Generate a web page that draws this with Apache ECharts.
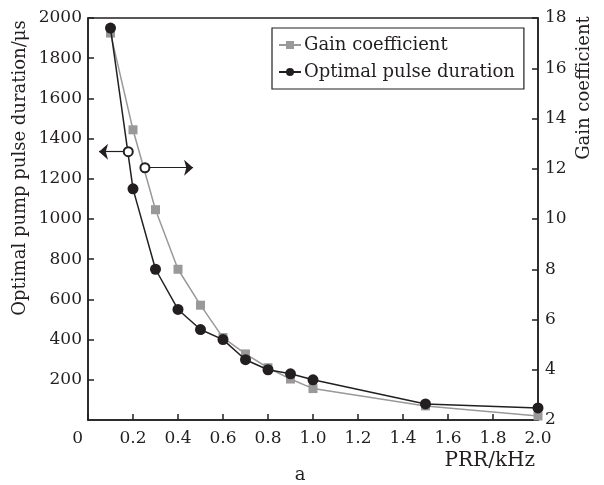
<!DOCTYPE html>
<html>
<head>
<meta charset="utf-8">
<script src="https://cdn.jsdelivr.net/npm/echarts@6/dist/echarts.min.js"></script>
<style>
html,body{margin:0;padding:0;background:#fff;}
#c{width:604px;height:485px;}
</style>
</head>
<body>
<div id="c"></div>
<script>
// PRR (kHz)
const prr = [0.1, 0.2, 0.3, 0.4, 0.5, 0.6, 0.7, 0.8, 0.9, 1.0, 1.5, 2.0];
// Optimal pulse duration (µs), left axis
const pulseDuration = [1950, 1150, 750, 550, 450, 400, 300, 250, 230, 200, 80, 60];
// Gain coefficient, right axis
const gainCoeff = [17.4, 13.55, 10.37, 8.0, 6.57, 5.28, 4.63, 4.08, 3.63, 3.25, 2.56, 2.16];

const xTicks = { min: 0, max: 2, interval: 0.2 };
const yLeftTicks = { min: 0, max: 2000, interval: 200 };
const yRightTicks = { min: 2, max: 18, interval: 2 };

// annotation arrows (data coords)
const leftArrow = [[0.179, 1335], [0.049, 1335]];
const rightArrow = [[0.253, 12.04], [0.467, 12.04]];

const FONT = 'DejaVu Serif';
const INK = '#231f20';
const GRAY = '#999999';
const TICKFS = 17;
const NAMEFS = 18;

const chart = echarts.init(document.getElementById('c'), null, { renderer: 'canvas' });

const axisCommon = {
  axisLine: { show: true, lineStyle: { color: INK, width: 1.5 } },
  axisTick: { show: true, inside: true, length: 6, lineStyle: { color: INK, width: 1.5 } },
  splitLine: { show: false }
};

chart.setOption({
  animation: false,
  backgroundColor: '#fff',
  grid: { left: 88, right: 66, top: 18, bottom: 65, show: true, borderColor: INK, borderWidth: 1.5, backgroundColor: 'transparent' },
  legend: {
    left: 272, top: 28,
    orient: 'vertical',
    borderColor: INK, borderWidth: 1.2,
    padding: [8, 9, 8, 6],
    itemGap: 9,
    itemWidth: 22, itemHeight: 10,
    textStyle: { color: INK, fontFamily: FONT, fontSize: NAMEFS, padding: [0, 0, 0, -2] },
    data: ['Gain coefficient', 'Optimal pulse duration']
  },
  xAxis: Object.assign({}, axisCommon, {
    type: 'value',
    min: xTicks.min, max: xTicks.max, interval: xTicks.interval,
    name: 'PRR/kHz',
    nameLocation: 'end',
    nameGap: -3,
    nameTextStyle: { color: INK, fontFamily: FONT, fontSize: 20, align: 'right', verticalAlign: 'top', padding: [31, 0, 0, 0] },
    axisLabel: {
      color: INK, fontFamily: FONT, fontSize: TICKFS, margin: 10,
      alignMinLabel: 'right',
      formatter: function (v) { return v === 0 ? '{z|0}' : v.toFixed(1); },
      rich: { z: { color: INK, fontFamily: FONT, fontSize: TICKFS, padding: [0, 5, 0, 0] } }
    }
  }),
  yAxis: [
    Object.assign({}, axisCommon, {
      type: 'value',
      min: yLeftTicks.min, max: yLeftTicks.max, interval: yLeftTicks.interval,
      position: 'left',
      axisLabel: { color: INK, fontFamily: FONT, fontSize: TICKFS, margin: 6, showMinLabel: false,
        formatter: function (v) { return String(v); } }
    }),
    Object.assign({}, axisCommon, {
      type: 'value',
      min: yRightTicks.min, max: yRightTicks.max, interval: yRightTicks.interval,
      position: 'right',
      axisLabel: { color: INK, fontFamily: FONT, fontSize: TICKFS, margin: 7,
        formatter: function (v) { return String(v); } }
    })
  ],
  series: [
    {
      name: 'Gain coefficient',
      type: 'line',
      yAxisIndex: 1,
      data: prr.map((x, i) => [x, gainCoeff[i]]),
      symbol: 'rect', symbolSize: 9,
      itemStyle: { color: GRAY },
      lineStyle: { color: GRAY, width: 1.5 },
      z: 2,
      markLine: {
        silent: true,
        symbol: ['emptyCircle', 'arrow'],
        symbolSize: [12, 9],
        label: { show: false },
        lineStyle: { color: INK, width: 1.2, type: 'solid' },
        itemStyle: { color: INK },
        emphasis: { disabled: true },
        data: [[{ coord: rightArrow[0] }, { coord: rightArrow[1] }]]
      }
    },
    {
      name: 'Optimal pulse duration',
      type: 'line',
      yAxisIndex: 0,
      data: prr.map((x, i) => [x, pulseDuration[i]]),
      symbol: 'circle', symbolSize: 11,
      itemStyle: { color: INK },
      lineStyle: { color: INK, width: 1.5 },
      z: 3,
      markLine: {
        silent: true,
        symbol: ['emptyCircle', 'arrow'],
        symbolSize: [12, 9],
        label: { show: false },
        lineStyle: { color: INK, width: 1.2, type: 'solid' },
        itemStyle: { color: INK },
        emphasis: { disabled: true },
        data: [[{ coord: leftArrow[0] }, { coord: leftArrow[1] }]]
      }
    }
  ],
  graphic: [
    { type: 'text', x: 20, y: 168, rotation: Math.PI / 2,
      style: { text: 'Optimal pump pulse duration/μs', fill: INK, font: NAMEFS + 'px "DejaVu Serif"', align: 'center', verticalAlign: 'middle' } },
    { type: 'text', x: 584, y: 88, rotation: Math.PI / 2,
      style: { text: 'Gain coefficient', fill: INK, font: NAMEFS + 'px "DejaVu Serif"', align: 'center', verticalAlign: 'middle' } },
    { type: 'text', x: 300, y: 475,
      style: { text: 'a', fill: INK, font: NAMEFS + 'px "DejaVu Serif"', align: 'center', verticalAlign: 'middle' } }
  ]
});
</script>
</body>
</html>
